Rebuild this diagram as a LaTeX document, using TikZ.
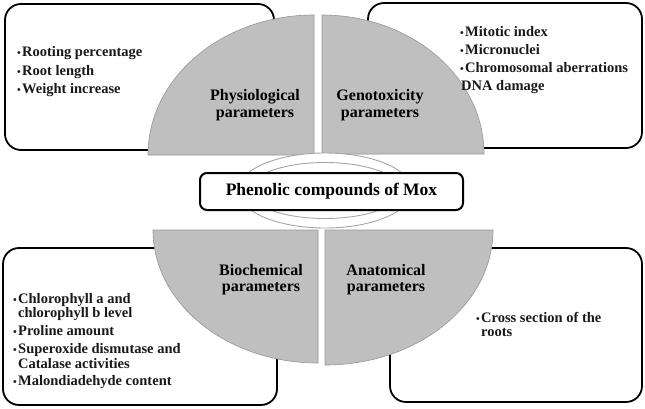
\documentclass[tikz,border=0pt]{standalone}
\usepackage{fontspec}
\setmainfont{Liberation Serif}
\definecolor{qgray}{RGB}{191,191,191}
\definecolor{qedge}{RGB}{150,150,150}
\definecolor{ringedge}{RGB}{165,165,165}
\newcommand\bul{{\fontsize{10.5}{10}\selectfont\textbullet}\hspace{1.5pt}}
\begin{document}
\begin{tikzpicture}[x=1pt,y=1pt,
  box/.style={draw=black, line width=1.8pt, rounded corners=16pt, fill=white, inner sep=0pt},
  quarter/.style={fill=qgray, draw=qedge, line width=0.6pt},
  lbl/.style={font=\bfseries\fontsize{16}{17}\selectfont, anchor=base, inner sep=0pt},
  itm/.style={font=\bfseries\fontsize{14.5}{15}\selectfont, anchor=base west, inner sep=0pt, text=black!90},
  ringstyle/.style={fill=white, draw=ringedge, line width=0.9pt, even odd rule},
  centerbox/.style={draw=black, line width=2pt, rounded corners=7pt, fill=white, inner sep=0pt,
    font=\bfseries\fontsize{17.5}{19}\selectfont}
]
\useasboundingbox (0,0) rectangle (645,408);
% outer boxes
\node[box, minimum width=269, minimum height=146] (tlbox) at (139.5,331) {};
\node[box, minimum width=274, minimum height=145] (trbox) at (505,332.5) {};
\node[box, minimum width=274, minimum height=157] (blbox) at (140,81.5) {};
\node[box, minimum width=252, minimum height=154] (brbox) at (516,83) {};
% quarter discs
\draw[quarter] (314,253) -- (148,253) arc[start angle=180, end angle=90, x radius=166, y radius=140] -- cycle;
\draw[quarter] (322,254) -- (322,393) arc[start angle=90, end angle=0, x radius=162, y radius=139] -- cycle;
\draw[quarter] (318,178) -- (153,178) arc[start angle=180, end angle=270, x radius=165, y radius=133] -- cycle;
\draw[quarter] (325,178) -- (493,178) arc[start angle=0, end angle=-90, x radius=168, y radius=135] -- cycle;
% quarter labels
\node[lbl] (phys1) at (255,308) {Physiological};
\node[lbl] (phys2) at (255,291) {parameters};
\node[lbl] (geno1) at (380,308) {Genotoxicity};
\node[lbl] (geno2) at (380,291) {parameters};
\node[lbl] (bio1) at (261,133) {Biochemical};
\node[lbl] (bio2) at (261,117) {parameters};
\node[lbl] (ana1) at (386,133) {Anatomical};
\node[lbl] (ana2) at (386,117) {parameters};
% top-left items
\node[itm] (tl1) at (22,351) {\llap{\bul}Rooting percentage};
\node[itm] (tl2) at (22,333) {\llap{\bul}Root length};
\node[itm] (tl3) at (22,315) {\llap{\bul}Weight increase};
% top-right items
\node[itm] (tr1) at (465,371) {\llap{\bul}Mitotic index};
\node[itm] (tr2) at (465,353) {\llap{\bul}Micronuclei};
\node[itm] (tr3) at (465,335) {\llap{\bul}Chromosomal aberrations};
\node[itm] (tr4) at (461,318) {DNA damage};
% bottom-left items
\node[itm] (bl1) at (18,105) {\llap{\bul}Chlorophyll a and};
\node[itm] (bl2) at (18,91) {chlorophyll b level};
\node[itm] (bl3) at (18,73) {\llap{\bul}Proline amount};
\node[itm] (bl4) at (18,55) {\llap{\bul}Superoxide dismutase and};
\node[itm] (bl5) at (18,40) {Catalase activities};
\node[itm] (bl6) at (18,23) {\llap{\bul}Malondiadehyde content};
% bottom-right items
\node[itm] (br1) at (481,86) {\llap{\bul}Cross section of the};
\node[itm] (br2) at (481,72) {roots};
% ring and centre
\draw[ringstyle] (325,217.5) ellipse[x radius=87, y radius=37.5] (325,217.5) ellipse[x radius=76, y radius=28];
\node[centerbox, minimum width=263, minimum height=37] (center) at (331.5,216.5) {Phenolic compounds of Mox};
\end{tikzpicture}
\end{document}
